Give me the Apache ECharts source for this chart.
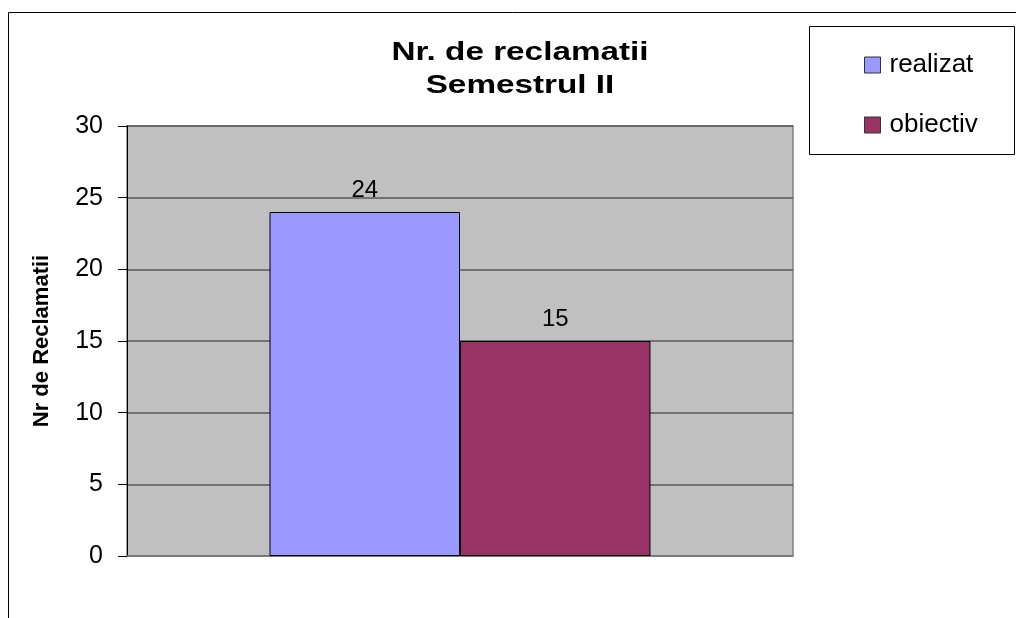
<!DOCTYPE html>
<html>
<head>
<meta charset="utf-8">
<script src="https://cdn.jsdelivr.net/npm/echarts@6/dist/echarts.min.js"></script>
<style>
  html, body { margin: 0; padding: 0; background: #fff; }
  #chart { width: 1016px; height: 618px; }
</style>
</head>
<body>
<div id="chart"></div>
<script>
// date
var categories = ['Semestrul II'];
var realizat = [24];
var obiectiv = [15];
var yTicks = { min: 0, max: 30, interval: 5 };
var titleText = 'Nr. de reclamatii\nSemestrul II';

var chart = echarts.init(document.getElementById('chart'), null, { renderer: 'canvas' });
var font = 'Liberation Sans, Arial, sans-serif';

var option = {
  backgroundColor: '#fff',
  animation: false,
  legend: {
    orient: 'vertical',
    left: 864,
    top: 52,
    padding: 0,
    itemWidth: 16,
    itemHeight: 16,
    itemGap: 34,
    icon: 'rect',
    itemStyle: { borderColor: '#333', borderWidth: 1 },
    textStyle: { fontFamily: font, fontSize: 26, color: '#000', padding: [0, 0, 0, 4] },
    data: ['realizat', 'obiectiv']
  },
  grid: {
    left: 127,
    top: 126,
    width: 666,
    height: 430,
    show: true,
    backgroundColor: '#C0C0C0',
    borderColor: '#808080',
    borderWidth: 1.5
  },
  xAxis: {
    type: 'category',
    data: categories,
    axisLabel: { show: false },
    axisTick: { show: false },
    axisLine: { lineStyle: { color: '#808080', width: 1.5 } }
  },
  yAxis: {
    type: 'value',
    min: yTicks.min,
    max: yTicks.max,
    interval: yTicks.interval,
    name: 'Nr de Reclamatii',
    nameLocation: 'middle',
    nameGap: 74,
    nameTextStyle: { fontFamily: font, fontSize: 22, fontWeight: 'bold', color: '#000' },
    axisLine: { show: true, lineStyle: { color: '#000', width: 1 } },
    axisTick: { show: true, length: 9, lineStyle: { color: '#000' } },
    axisLabel: { fontFamily: font, fontSize: 25, color: '#000', margin: 24 },
    splitLine: { lineStyle: { color: '#5a5a5a', width: 1.5 } }
  },
  series: [
    {
      name: 'realizat',
      type: 'bar',
      data: realizat,
      barGap: '0%',
      barCategoryGap: '42.8%',
      itemStyle: { color: '#9999FF', borderColor: '#000', borderWidth: 1 },
      label: { show: true, position: 'top', distance: 10, fontFamily: font, fontSize: 24, color: '#000' }
    },
    {
      name: 'obiectiv',
      type: 'bar',
      data: obiectiv,
      barGap: '0%',
      barCategoryGap: '42.8%',
      itemStyle: { color: '#993366', borderColor: '#000', borderWidth: 1 },
      label: { show: true, position: 'top', distance: 10, fontFamily: font, fontSize: 24, color: '#000' }
    }
  ],
  graphic: [
    {
      type: 'text',
      x: 520,
      y: 36,
      scaleX: 1.28,
      silent: true,
      style: {
        text: titleText,
        x: 0,
        y: 0,
        align: 'center',
        verticalAlign: 'top',
        lineHeight: 33,
        fill: '#000',
        font: 'bold 26px Liberation Sans, Arial, sans-serif'
      }
    },
    {
      type: 'rect',
      shape: { x: 8.5, y: 12.5, width: 1040, height: 640 },
      style: { fill: 'none', stroke: '#000', lineWidth: 1 },
      silent: true
    },
    {
      type: 'rect',
      shape: { x: 809.5, y: 26.5, width: 205, height: 128 },
      style: { fill: 'none', stroke: '#000', lineWidth: 1 },
      silent: true
    }
  ]
};

chart.setOption(option);
</script>
</body>
</html>
